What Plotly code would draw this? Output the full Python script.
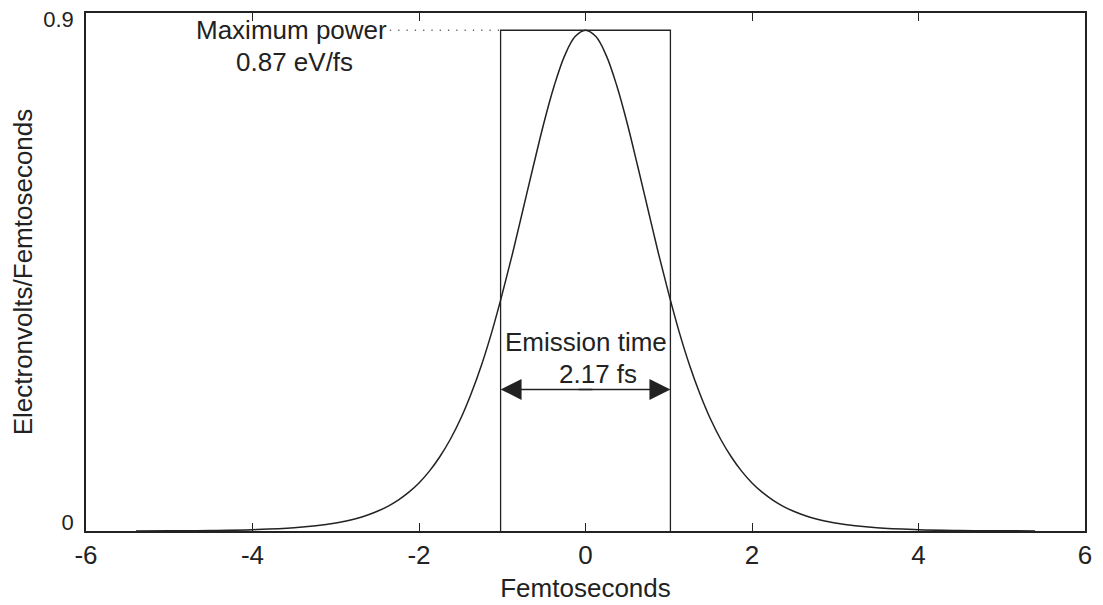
import plotly.graph_objects as go

# ---- data (right half, mirrored for the symmetric pulse) ----
half_time_fs = [0.0, 0.125, 0.25, 0.375, 0.5, 0.625, 0.75, 0.875, 1.0, 1.125, 1.25, 1.375,
                1.5, 1.625, 1.75, 1.875, 2.0, 2.125, 2.25, 2.375, 2.5, 2.625, 2.75, 2.875,
                3.0, 3.5, 4.0, 4.5, 5.0, 5.4]
half_power_ev_fs = [0.870, 0.859, 0.826, 0.774, 0.709, 0.635, 0.559, 0.483, 0.412, 0.346,
                    0.288, 0.238, 0.195, 0.159, 0.129, 0.104, 0.0835, 0.067, 0.0537, 0.0429,
                    0.0343, 0.0274, 0.0218, 0.0174, 0.0138, 0.0055, 0.0022, 0.0009,
                    0.00035, 0.00017]

time_fs = [-t for t in half_time_fs[:0:-1]] + half_time_fs
power_ev_fs = half_power_ev_fs[:0:-1] + half_power_ev_fs

peak_power = 0.87
rect_x = [-1.02, -1.02, 1.02, 1.02]
rect_y = [0.0, peak_power, peak_power, 0.0]
dotted_x = [-2.35, -1.02]
dotted_y = [peak_power, peak_power]
arrow_y = 0.246

x_ticks = [-6, -4, -2, 0, 2, 4, 6]
x_tick_labels = ["-6", "-4", "-2", "0", "2", "4", "6"]
y_ticks = [0, 0.9]
y_tick_labels = ["0<br> ", "0.9"]   # "0" sits just above the axis in the reference

INK = "#222222"
FONT = "Liberation Sans, Arial, sans-serif"

fig = go.Figure()
fig.add_trace(go.Scatter(x=time_fs, y=power_ev_fs, mode="lines",
                         line=dict(color=INK, width=1.5, shape="spline", smoothing=1.0),
                         showlegend=False, hoverinfo="skip"))
fig.add_trace(go.Scatter(x=rect_x, y=rect_y, mode="lines",
                         line=dict(color=INK, width=1.3),
                         showlegend=False, hoverinfo="skip"))
fig.add_trace(go.Scatter(x=dotted_x, y=dotted_y, mode="lines",
                         line=dict(color="#666666", width=1.3, dash="1.3px,7px"),
                         showlegend=False, hoverinfo="skip"))

# double-headed arrow
for end, start in ((rect_x[0], 0.1), (rect_x[2], -0.1)):
    fig.add_annotation(x=end, y=arrow_y, ax=start, ay=arrow_y, xref="x", yref="y",
                       axref="x", ayref="y", showarrow=True, arrowhead=2,
                       arrowsize=2.8, arrowwidth=1.5, arrowcolor=INK, text="")

txt = dict(family=FONT, size=26, color=INK)
fig.add_annotation(x=-3.53, y=0.871, text="Maximum power", showarrow=False, font=txt)
fig.add_annotation(x=-3.5, y=0.815, text="0.87 eV/fs", showarrow=False, font=txt)
fig.add_annotation(x=0.0, y=0.329, text="Emission time", showarrow=False, font=txt)
fig.add_annotation(x=0.15, y=0.272, text="2.17 fs", showarrow=False, font=txt)

axis_common = dict(showgrid=False, zeroline=False, showline=True, linecolor=INK,
                   linewidth=1.5, mirror="ticks", ticks="inside", ticklen=8,
                   tickwidth=1.2, tickcolor=INK, ticklabeloverflow="allow")

fig.update_xaxes(range=[-6, 6], tickvals=x_ticks, ticktext=x_tick_labels,
                 tickfont=dict(family=FONT, size=26, color=INK),
                 title=dict(text="Femtoseconds", font=dict(family=FONT, size=26, color=INK),
                            standoff=10),
                 **axis_common)
fig.update_yaxes(range=[0, 0.90001], tickvals=y_ticks, ticktext=y_tick_labels,
                 tickfont=dict(family=FONT, size=22, color=INK),
                 ticklabelstandoff=6, ticklabelshift=6,
                 title=dict(text="Electronvolts/Femtoseconds",
                            font=dict(family=FONT, size=26, color=INK), standoff=8),
                 **axis_common)

# page body has an 8px default margin: size figure so plot area lands where the reference has it
fig.update_layout(width=1095, height=597, plot_bgcolor="white", paper_bgcolor="white",
                  margin=dict(l=78, r=18, t=5, b=74, autoexpand=False),
                  font=dict(family=FONT, color=INK))

fig.write_html("out.html")
